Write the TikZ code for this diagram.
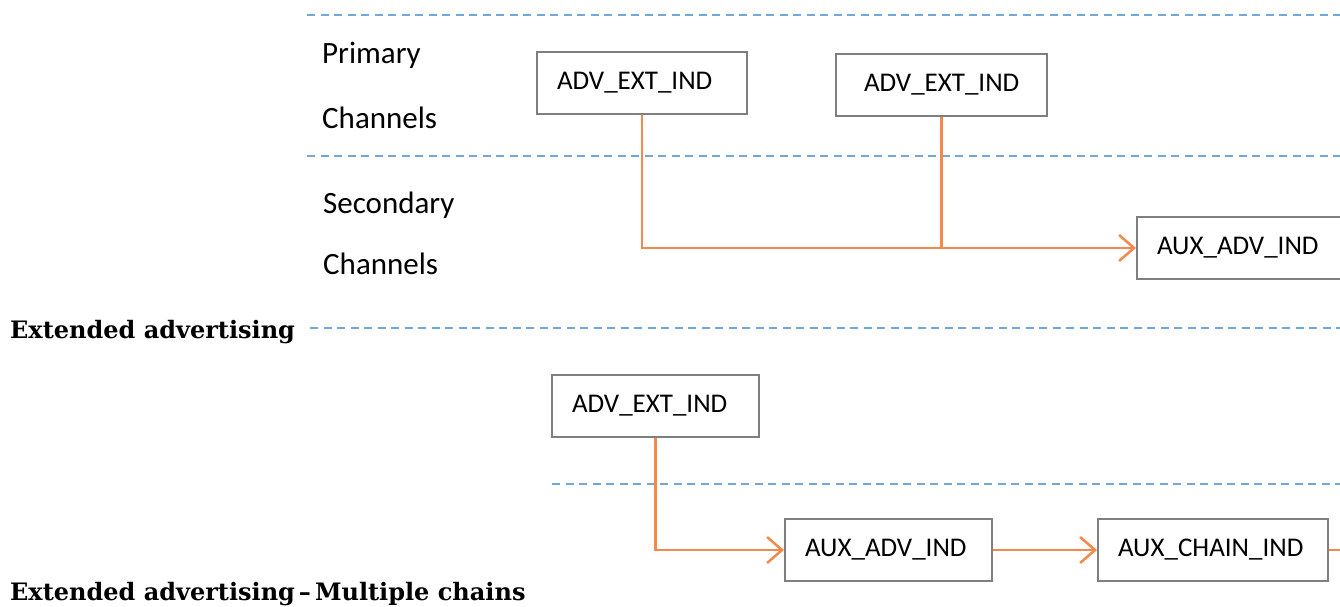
\documentclass[tikz,border=0pt]{standalone}
\usepackage{fontspec}
\setmainfont{Carlito}
\newfontfamily\headfont{DejaVu Serif}[Ligatures=TeX]
\usetikzlibrary{arrows.meta}
\definecolor{lanecol}{HTML}{6FA8DC}
\definecolor{flowcol}{HTML}{F4894B}
\definecolor{boxcol}{HTML}{7F7F7F}
\begin{document}
\begin{tikzpicture}[x=1pt,y=-1pt,
  lane/.style={lanecol, line width=2.4pt, dash pattern=on 8pt off 5.5pt},
  chanbox/.style={draw=boxcol, line width=2pt, minimum height=62pt,
    inner ysep=0pt, inner xsep=20pt, text width=#1, align=left,
    font=\fontsize{27}{31}\selectfont},
  lanelabel/.style={anchor=base west, inner sep=0pt, font=\fontsize{31}{36}\selectfont},
  heading/.style={anchor=base west, inner sep=0pt, font=\headfont\bfseries\fontsize{24}{28}\selectfont},
  flow/.style={flowcol, line width=2.5pt},
  flowarrow/.style={flow, -{Straight Barb[length=15pt,width=26pt]}}
]
\clip (0,0) rectangle (1340,606);

% lane separators
\draw[lane] (307,15) -- (1340,15);
\draw[lane] (307,156) -- (1340,156);
\draw[lane] (310,328) -- (1340,328);
\draw[lane] (552,484) -- (1340,484);

% lane labels
\node[lanelabel] (lpri)  at (322,63)  {Primary};
\node[lanelabel] (lpch)  at (322,128) {Channels};
\node[lanelabel] (lsec)  at (323,213) {Secondary};
\node[lanelabel] (lsch)  at (323,274) {Channels};

% headings
\node[heading] (h1) at (10,338) {Extended advertising};
\node[heading] (h2) at (10,600) {Extended advertising\,\textendash\,Multiple chains};

% extended advertising
\node[chanbox=170pt] (ext1) at (642,83) {ADV\_EXT\_IND};
\node[chanbox=155pt, inner xsep=28pt] (ext2) at (941.5,85) {ADV\_EXT\_IND};
\node[chanbox=170pt] (aux1) at (1242,248) {AUX\_ADV\_IND};

\draw[flowarrow] (ext1.south) |- (aux1.west);
\draw[flow] (ext2.south) -- (ext2.south |- aux1.west);

% multiple chains
\node[chanbox=167pt] (ext3) at (655.5,405.5) {ADV\_EXT\_IND};
\node[chanbox=167pt] (aux2) at (888.5,550) {AUX\_ADV\_IND};
\node[chanbox=190pt] (chain) at (1213,550) {AUX\_CHAIN\_IND};
\coordinate (next) at (1400,550);

\draw[flowarrow] (ext3.south) |- (aux2.west);
\draw[flowarrow] (aux2.east) -- (chain.west);
\draw[flow] (chain.east) -- (next);
\end{tikzpicture}
\end{document}
